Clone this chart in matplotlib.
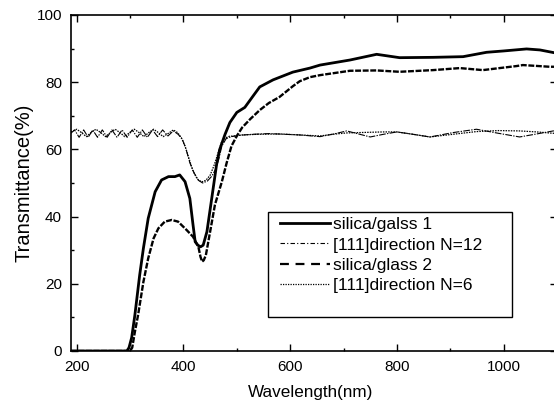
import matplotlib
matplotlib.use('Agg')
import matplotlib.pyplot as plt
from matplotlib.lines import Line2D
from matplotlib.patches import Rectangle
from matplotlib.ticker import MultipleLocator

plt.rcParams['font.family'] = ['Liberation Sans', 'DejaVu Sans']

# silica/galss 1 (solid)
wl_glass1 = [189, 294, 298, 303, 309, 318, 325, 334, 347, 359, 372, 384, 393, 403, 412,
             418, 422, 427, 432, 437, 444, 453, 462, 468, 478, 487, 500, 515, 531, 543,
             568, 605, 637, 656, 712, 762, 805, 868, 924, 968, 1000, 1043, 1068, 1094, 1100]
t_glass1 = [0, 0, 1, 4, 10.7, 22.6, 30.6, 39.5, 47.4, 50.9, 51.9, 51.9, 52.4, 50.4, 45.4,
            37.5, 32.5, 31.5, 31.0, 31.5, 35.5, 45.4, 55.4, 60, 64.5, 68, 71, 72.5, 76, 78.6,
            80.7, 83, 84.2, 85.1, 86.6, 88.3, 87.3, 87.4, 87.6, 88.9, 89.3, 89.9, 89.6, 88.8, 88.6]

# silica/glass 2 (dashed)
wl_glass2 = [189, 300, 304, 309, 315, 325, 334, 344, 353, 365, 378, 390, 406, 418, 428,
             432, 435, 438, 442, 450, 459, 472, 481, 490, 500, 510, 525, 543, 560, 580,
             605, 618, 637, 656, 712, 762, 805, 868, 918, 961, 1024, 1036, 1086, 1100]
t_glass2 = [0, 0, 1, 5.7, 10.7, 20.6, 27.6, 33.5, 36.5, 38.5, 39, 38.5, 36, 34, 31,
            28, 26.6, 27, 28.5, 35.5, 43.5, 50.4, 56, 61, 64, 66.5, 69, 71.7, 73.8, 75.6,
            78.8, 80.3, 81.5, 82.1, 83.4, 83.5, 83.1, 83.6, 84.2, 83.6, 84.8, 85.1, 84.6, 84.6]

# [111]direction N=12 (dash-dot)
wl_n12 = [189, 196, 204.5, 213, 221.5, 230, 239, 248, 257, 266, 275.5, 285, 294.5, 304, 313.5,
          323, 332.5, 342, 351.5, 361, 371, 381, 390, 398, 405, 412, 420, 428, 436, 445,
          453, 460, 466, 472, 480, 490, 505, 530, 560, 590, 618, 656, 682, 706, 728,
          750, 775, 800, 830, 862, 905, 949, 990, 1030, 1062, 1093, 1100]
t_n12 = [64.8, 65.8, 63.6, 65.8, 63.6, 65.8, 63.6, 65.8, 63.6, 65.8, 63.6, 65.8, 63.6, 65.8, 63.6,
         65.8, 63.6, 65.8, 63.8, 65.8, 64.0, 65.5, 64.5, 63.0, 60.0, 56.0, 53.0, 50.8, 50.0, 50.6,
         52.0, 54.0, 57.0, 61.0, 63.2, 63.8, 64.2, 64.5, 64.7, 64.5, 64.3, 63.8, 64.6, 65.5, 64.6,
         63.7, 64.5, 65.2, 64.5, 63.7, 65.0, 66.0, 64.8, 63.7, 64.6, 65.5, 65.5]

# [111]direction N=6 (dotted)
wl_n6 = [189, 200, 209, 218, 227, 236, 245, 254, 263, 272, 281, 290, 299, 308, 317,
         326, 335, 344, 353, 362, 372, 381, 389, 396, 403, 410, 418, 426, 434, 442,
         450, 458, 465, 471, 478, 486, 495, 510, 540, 580, 618, 656, 680, 706, 728,
         750, 775, 800, 830, 862, 905, 949, 990, 1030, 1062, 1093, 1100]
t_n6 = [65.2, 66.0, 65.0, 63.8, 65.0, 66.0, 65.0, 63.8, 65.0, 66.0, 65.0, 63.8, 65.0, 66.0, 65.0,
        63.8, 65.0, 66.0, 65.0, 63.8, 64.8, 65.8, 65.0, 63.5, 61.0, 57.5, 53.5, 51.2, 50.3, 50.8,
        52.3, 55.5, 59.0, 62.0, 63.4, 63.9, 64.0, 64.3, 64.5, 64.6, 64.3, 64.0, 64.5, 64.9, 65.0,
        65.1, 65.2, 65.2, 64.5, 63.7, 64.5, 65.3, 65.6, 65.5, 65.2, 64.8, 64.8]

labels = ['silica/galss 1', '[111]direction N=12', 'silica/glass 2', '[111]direction N=6']

fig = plt.figure(figsize=(5.54, 4.07), dpi=100)
ax = fig.add_axes([71/554, 56/407, 486/554, 336/407])

ax.plot(wl_glass1, t_glass1, color='black', lw=2.0)
ax.plot(wl_n12, t_n12, color='black', lw=0.8, linestyle=(0, (6, 1.2, 1.2, 1.2)))
ax.plot(wl_glass2, t_glass2, color='black', lw=1.7, linestyle=(0, (2.5, 0.7)))
ax.plot(wl_n6, t_n6, color='black', lw=0.9, linestyle=(0, (1.2, 0.9)))

ax.set_xlim(189.3, 1100)
ax.set_ylim(0, 100)
ax.set_xticks([200, 400, 600, 800, 1000])
ax.xaxis.set_minor_locator(MultipleLocator(100))
ax.yaxis.set_major_locator(MultipleLocator(20))
ax.yaxis.set_minor_locator(MultipleLocator(10))
ax.tick_params(which='both', direction='in', top=True, right=True, width=1.0,
               labelsize=11, pad=6.5)
ax.tick_params(which='major', length=5)
ax.tick_params(which='minor', length=2.5)
for sp in ax.spines.values():
    sp.set_linewidth(1.2)

fig.text(310.5/554, 1 - 392/407, 'Wavelength(nm)', ha='center', va='center', fontsize=12.3)
fig.text(24/554, 1 - 183/407, 'Transmittance(%)', rotation=90, ha='center', va='center',
         fontsize=14.5)

# legend box is taller than its entries, so draw the frame separately
box = Rectangle((268/554, (407-317)/407), (512-268)/554, (317-212)/407,
                transform=fig.transFigure, facecolor='white', edgecolor='black', lw=1.0)
fig.add_artist(box)
handles = [Line2D([], [], color='black', lw=2.0),
           Line2D([], [], color='black', lw=0.8, linestyle=(0, (4, 2, 1, 2))),
           Line2D([], [], color='black', lw=1.6, linestyle=(0, (4, 3))),
           Line2D([], [], color='black', lw=0.9, linestyle=(0, (1, 1)))]
fig.legend(handles, labels, loc='upper left', bbox_to_anchor=(280/554, 1 - 217/407),
           frameon=False, borderpad=0, borderaxespad=0, handlelength=2.9,
           handletextpad=0.15, labelspacing=0.3, fontsize=12.5)

fig.savefig('out.png', dpi=100)
